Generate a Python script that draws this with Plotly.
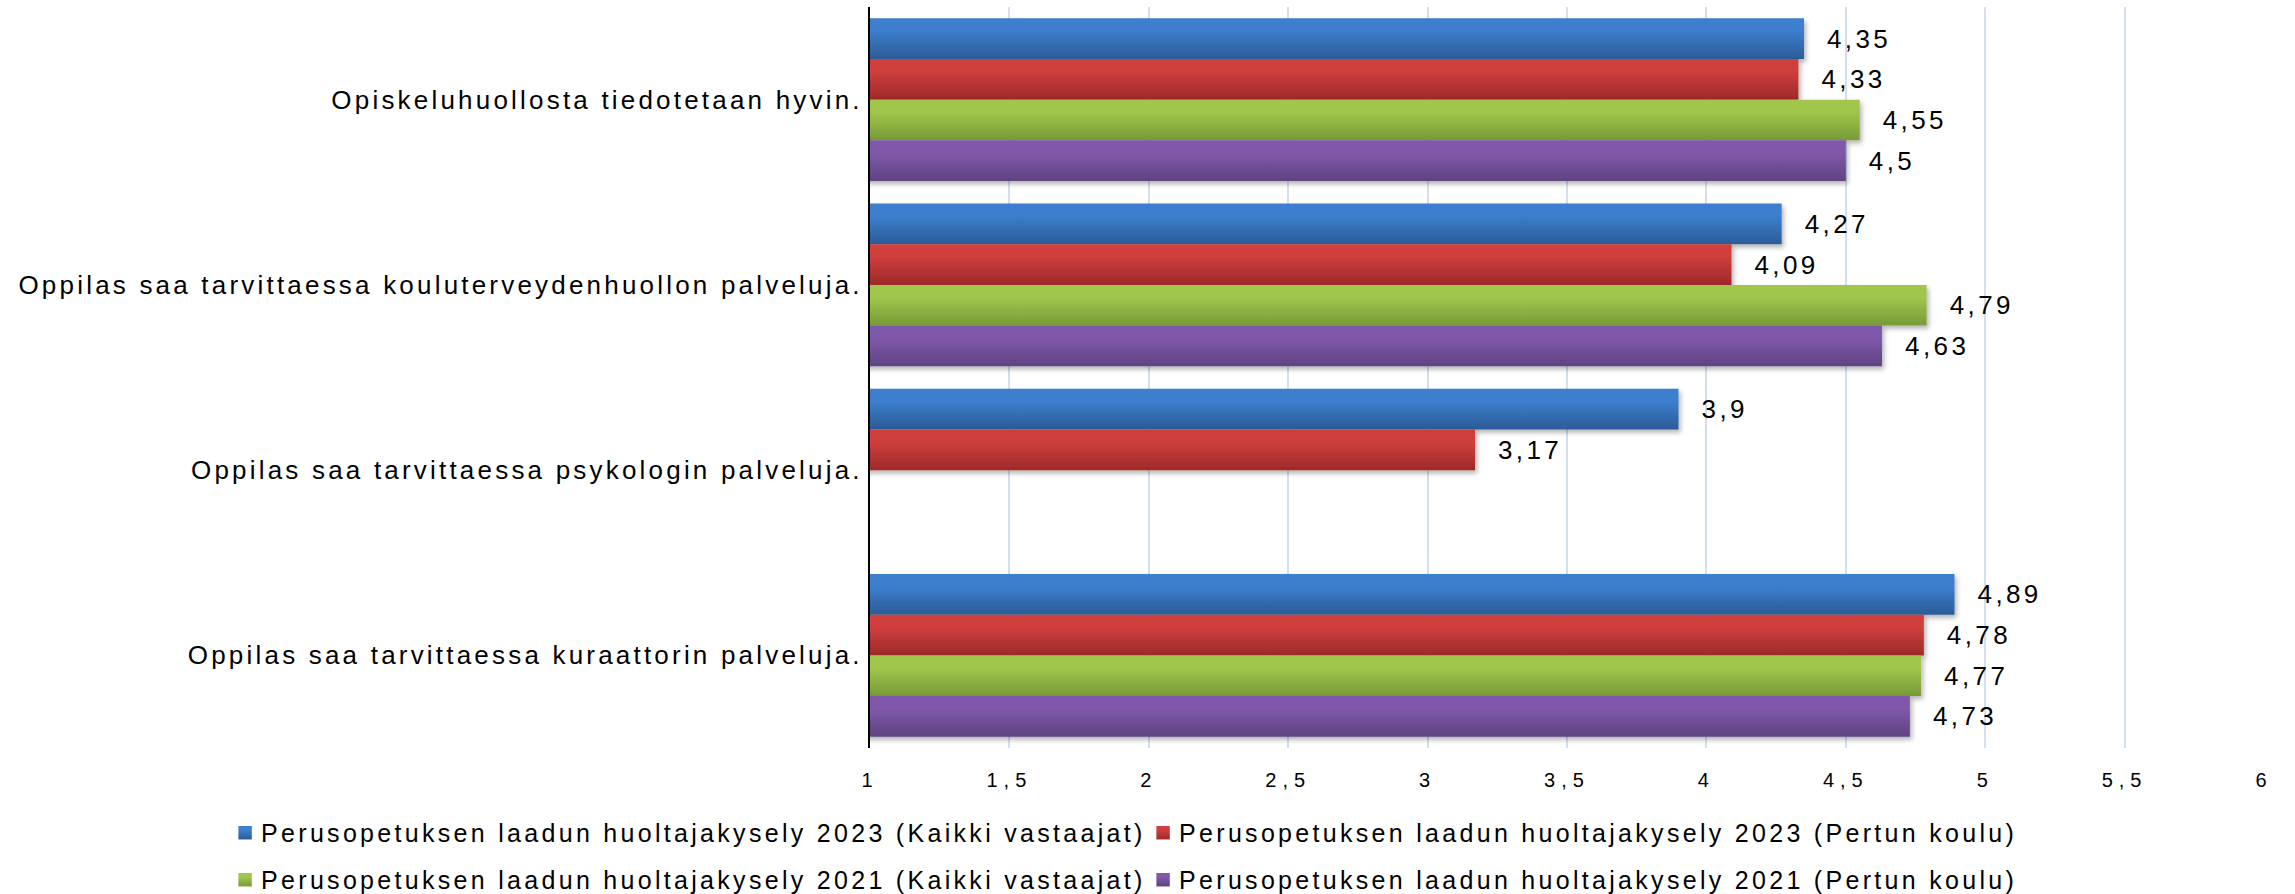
import plotly.graph_objects as go

categories = [
    "Opiskeluhuollosta tiedotetaan hyvin.",
    "Oppilas saa tarvittaessa kouluterveydenhuollon palveluja.",
    "Oppilas saa tarvittaessa psykologin palveluja.",
    "Oppilas saa tarvittaessa kuraattorin palveluja.",
]
series_names = [
    "Perusopetuksen laadun huoltajakysely 2023 (Kaikki vastaajat)",
    "Perusopetuksen laadun huoltajakysely 2023 (Pertun koulu)",
    "Perusopetuksen laadun huoltajakysely 2021 (Kaikki vastaajat)",
    "Perusopetuksen laadun huoltajakysely 2021 (Pertun koulu)",
]
kaikki_2023 = [4.35, 4.27, 3.9, 4.89]
pertun_2023 = [4.33, 4.09, 3.17, 4.78]
kaikki_2021 = [4.55, 4.79, None, 4.77]
pertun_2021 = [4.5, 4.63, None, 4.73]
series_values = [kaikki_2023, pertun_2023, kaikki_2021, pertun_2021]

base_colors = ["#3670b6", "#b9393a", "#8cae4a", "#70549a"]
grad_top = ["#3c7fce", "#cf3f3d", "#a1c64c", "#8059ab"]
grad_bot = ["#2c5b97", "#9d2a29", "#789a37", "#5e4380"]
legend_ids = ["legend", "legend", "legend2", "legend2"]

FONT = "Liberation Sans, Arial, sans-serif"

fig = go.Figure()
for name, vals, col, lg in zip(series_names, series_values, base_colors, legend_ids):
    fig.add_trace(go.Bar(
        y=categories, x=vals, name=name, orientation="h",
        marker=dict(color=col, line=dict(width=0)),
        texttemplate="%{x}", textposition="outside",
        textfont=dict(size=26, color="#000000", family=FONT),
        constraintext="none", cliponaxis=False,
        legend=lg,
    ))

legend_common = dict(
    orientation="h", x=-0.4655, xanchor="left", xref="paper",
    yanchor="middle",
    entrywidth=873, entrywidthmode="pixels", itemwidth=30,
    font=dict(size=25, family=FONT, color="#000000"),
    bgcolor="rgba(0,0,0,0)", traceorder="normal",
)

fig.update_layout(
    width=2295, height=894,
    margin=dict(l=870, r=31, t=7, b=146, autoexpand=False),
    paper_bgcolor="white", plot_bgcolor="white",
    barmode="group", bargap=0.122, bargroupgap=0,
    separators=", ",
    font=dict(family=FONT, color="#000000"),
    legend=dict(legend_common, y=-0.1147),
    legend2=dict(legend_common, y=-0.1781),
)
fig.update_xaxes(
    range=[1, 6], tick0=1, dtick=0.5, showgrid=True,
    gridcolor="#d3dfef", gridwidth=1.5, zeroline=False, showline=False,
    ticks="outside", ticklen=14, tickcolor="rgba(0,0,0,0)",
    tickfont=dict(size=20, family=FONT, color="#000000"),
)
fig.update_yaxes(
    categoryorder="array", categoryarray=categories, autorange="reversed",
    showline=True, linecolor="#000000", linewidth=2, showgrid=False,
    ticks="", ticklen=0,
    tickfont=dict(size=26, family=FONT, color="#000000"),
)

grad_js = "[" + ",".join('["%s","%s"]' % (t, b) for t, b in zip(grad_top, grad_bot)) + "]"

post = """
try {
document.documentElement.style.margin = '0';
document.body.style.margin = '0';
document.body.style.padding = '0';
var gd = document.getElementById('{plot_id}');
var NS = 'http://www.w3.org/2000/svg';
var G = %s;
var svg = gd.querySelector('svg.main-svg');
var defs = svg.querySelector('defs');
if (!defs) { defs = document.createElementNS(NS, 'defs'); svg.insertBefore(defs, svg.firstChild); }
G.forEach(function(c, i) {
  var g = document.createElementNS(NS, 'linearGradient');
  g.setAttribute('id', 'bargrad' + i);
  g.setAttribute('x1', '0'); g.setAttribute('y1', '0');
  g.setAttribute('x2', '0'); g.setAttribute('y2', '1');
  [[0, c[0]], [0.3, c[0]], [1, c[1]]].forEach(function(s) {
    var st = document.createElementNS(NS, 'stop');
    st.setAttribute('offset', s[0]); st.setAttribute('stop-color', s[1]);
    g.appendChild(st);
  });
  defs.appendChild(g);
});
var f = document.createElementNS(NS, 'filter');
f.setAttribute('id', 'barshadow');
f.setAttribute('x', '-5%%'); f.setAttribute('y', '-20%%');
f.setAttribute('width', '115%%'); f.setAttribute('height', '160%%');
var ds = document.createElementNS(NS, 'feDropShadow');
ds.setAttribute('dx', '2'); ds.setAttribute('dy', '3');
ds.setAttribute('stdDeviation', '2.5');
ds.setAttribute('flood-color', '#000'); ds.setAttribute('flood-opacity', '0.3');
f.appendChild(ds); defs.appendChild(f);

var css = document.createElement('style');
css.textContent = 'html,body{margin:0;padding:0}' +
  '.ytick text{letter-spacing:3.2px}' +
  '.xtick text{letter-spacing:6px}' +
  '.infolayer text.legendtext, .infolayer .traces text{letter-spacing:3.3px}';
document.head.appendChild(css);

function decorate() {
  gd.querySelectorAll('.barlayer .trace.bars').forEach(function(tr) {
    var idx = tr.__data__[0].trace.index;
    tr.querySelectorAll('path').forEach(function(p) {
      p.style.fill = 'url(#bargrad' + idx + ')';
      p.setAttribute('filter', 'url(#barshadow)');
    });
    tr.querySelectorAll('text.bartext').forEach(function(t) {
      if (t.getAttribute('data-shifted')) return;
      var b0 = t.getBoundingClientRect();
      t.style.letterSpacing = '3.4px';
      var b1 = t.getBoundingClientRect();
      var dx = b0.left - b1.left + 20;
      t.setAttribute('transform', 'translate(' + dx + ',0) ' + (t.getAttribute('transform') || ''));
      t.setAttribute('data-shifted', '1');
    });
  });
  gd.querySelectorAll('.infolayer .traces').forEach(function(tr) {
    var d = tr.__data__;
    if (!d || !d[0] || !d[0].trace) return;
    var idx = d[0].trace.index;
    tr.querySelectorAll('.legendpoints path').forEach(function(p) {
      p.style.fill = 'url(#bargrad' + idx + ')';
      if (!p.getAttribute('data-scaled')) {
        var tf = p.getAttribute('transform') || '';
        p.setAttribute('transform', tf + ' translate(4,0) scale(1.12)');
        p.setAttribute('data-scaled', '1');
      }
    });
    tr.querySelectorAll('text').forEach(function(t) { t.style.letterSpacing = '3.3px'; });
  });
}
decorate();
setTimeout(decorate, 300);
} catch (e) { console.log(e); }
""" % grad_js

fig.write_html("out.html", post_script=post, config={"displayModeBar": False})
